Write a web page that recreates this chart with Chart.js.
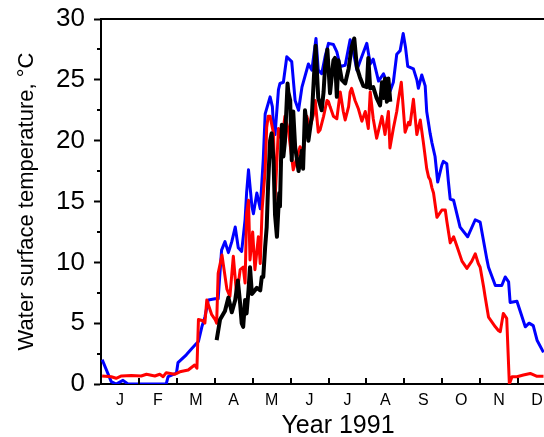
<!DOCTYPE html>
<html>
<head>
<meta charset="utf-8">
<script src="https://cdn.jsdelivr.net/npm/chart.js@4/dist/chart.umd.min.js"></script>
<style>
  html, body { margin: 0; padding: 0; overflow: hidden; background: #fff; }
  canvas { display: block; }
</style>
</head>
<body>
<canvas id="chart" width="560" height="437"></canvas>
<script>
// month labels along the x axis (x values are in months from 1 Jan)
const monthLabels = ['J', 'F', 'M', 'A', 'M', 'J', 'J', 'A', 'S', 'O', 'N', 'D'];
const yTicks = [0, 5, 10, 15, 20, 25, 30];
const yMinorTicks = [2.5, 7.5, 12.5, 17.5, 22.5, 27.5];
const xTitle = 'Year 1991';
const yTitle = 'Water surface temperature, °C';

// [month, temperature °C]
const blueSeries = [
  [0.03,2.0],[0.27,0.2],[0.40,0.0],[0.58,0.3],[0.71,0.0],[1.72,0.0],[1.77,0.6],[1.99,0.9],
  [2.03,1.75],[2.25,2.4],[2.39,2.9],[2.51,3.3],[2.57,3.5],[2.66,4.7],[2.74,5.5],[2.83,6.9],
  [3.01,7.0],[3.09,7.0],[3.18,11.0],[3.27,11.7],[3.36,10.8],[3.45,11.7],[3.54,12.9],[3.62,11.2],
  [3.71,10.9],[3.80,13.5],[3.84,15.7],[3.89,17.6],[3.98,14.6],[4.02,14.0],[4.11,15.7],[4.20,14.4],
  [4.28,18.5],[4.33,22.2],[4.46,23.6],[4.52,22.8],[4.55,21.1],[4.59,20.5],[4.68,24.2],[4.72,24.7],
  [4.81,24.8],[4.90,26.9],[5.03,26.5],[5.12,23.3],[5.21,22.5],[5.30,24.4],[5.47,26.3],[5.56,25.8],
  [5.67,28.4],[5.73,25.8],[5.82,25.5],[5.91,26.9],[6.00,28.0],[6.13,27.9],[6.22,27.3],[6.31,26.1],
  [6.44,26.2],[6.57,28.3],[6.66,27.2],[6.75,25.8],[6.83,26.5],[7.01,28.0],[7.10,26.3],[7.18,26.7],
  [7.32,24.9],[7.45,25.5],[7.63,24.1],[7.71,24.8],[7.80,27.1],[7.89,27.4],[7.97,28.8],[8.03,27.7],
  [8.09,26.1],[8.24,25.9],[8.33,25.0],[8.37,24.3],[8.46,25.4],[8.55,24.5],[8.59,22.4],[8.68,20.6],
  [8.73,19.8],[8.81,18.7],[8.88,16.6],[8.99,18.0],[9.03,18.3],[9.12,18.1],[9.16,16.7],[9.21,15.2],
  [9.30,15.1],[9.47,12.9],[9.67,12.1],[9.87,13.5],[10.00,13.3],[10.18,10.2],[10.22,9.6],[10.40,8.1],
  [10.57,8.1],[10.66,8.8],[10.75,8.4],[10.79,6.7],[10.97,6.8],[11.19,4.7],[11.29,5.0],[11.40,4.8],
  [11.50,3.6],[11.67,2.6]
];

const redSeries = [
  [0.03,0.66],[0.27,0.6],[0.40,0.47],[0.54,0.66],[0.80,0.7],[1.06,0.66],[1.20,0.8],[1.42,0.66],
  [1.55,0.8],[1.64,0.6],[1.72,0.93],[1.94,0.8],[2.08,1.0],[2.30,1.15],[2.47,1.56],[2.53,1.3],
  [2.57,5.3],[2.69,5.2],[2.74,5.0],[2.79,6.9],[2.92,5.7],[3.01,5.3],[3.05,5.0],[3.09,9.1],
  [3.19,10.6],[3.32,7.8],[3.40,7.2],[3.49,10.5],[3.58,7.2],[3.67,9.4],[3.75,9.6],[3.80,8.3],
  [3.84,14.0],[3.89,15.1],[3.93,10.2],[4.00,12.5],[4.06,9.4],[4.15,12.1],[4.20,9.9],[4.25,14.4],
  [4.33,17.6],[4.37,21.1],[4.41,22.0],[4.46,22.0],[4.55,20.6],[4.59,15.1],[4.68,21.0],[4.77,20.0],
  [4.85,22.0],[4.94,20.9],[5.07,17.6],[5.25,19.5],[5.34,19.1],[5.43,22.0],[5.51,21.1],[5.60,22.1],
  [5.65,23.3],[5.73,20.7],[5.78,20.9],[5.87,22.0],[5.96,23.3],[6.00,23.2],[6.04,22.8],[6.13,22.0],
  [6.22,21.8],[6.31,24.0],[6.39,22.4],[6.44,21.7],[6.53,22.8],[6.57,24.0],[6.61,24.3],[6.70,23.3],
  [6.79,22.6],[6.88,21.6],[6.97,22.4],[7.05,21.0],[7.10,24.0],[7.18,21.8],[7.27,20.2],[7.41,22.0],
  [7.49,20.5],[7.58,22.4],[7.62,19.4],[7.71,21.0],[7.80,22.4],[7.84,23.3],[7.92,24.8],[8.02,20.7],
  [8.11,21.5],[8.15,21.3],[8.24,23.4],[8.33,20.5],[8.42,21.7],[8.50,19.9],[8.59,17.7],[8.64,17.0],
  [8.68,16.8],[8.73,16.1],[8.77,15.7],[8.86,13.7],[8.99,14.3],[9.08,14.3],[9.12,13.4],[9.21,11.6],
  [9.30,12.1],[9.39,11.3],[9.52,10.1],[9.65,9.5],[9.78,10.1],[9.87,10.7],[9.95,9.9],[10.00,9.6],
  [10.09,8.0],[10.13,7.2],[10.22,5.5],[10.40,4.7],[10.48,4.4],[10.53,4.3],[10.61,5.8],[10.70,5.4],
  [10.77,0.0],[10.84,0.6],[10.97,0.6],[11.14,0.74],[11.32,0.87],[11.50,0.63],[11.67,0.63]
];

const blackSeries = [
  [3.05,3.6],[3.14,5.3],[3.27,6.0],[3.36,7.1],[3.45,5.9],[3.54,6.9],[3.61,8.5],[3.67,6.6],
  [3.71,5.0],[3.75,4.7],[3.80,6.9],[3.84,5.8],[3.89,7.7],[3.93,9.6],[3.98,7.4],[4.11,7.9],
  [4.20,7.7],[4.24,8.8],[4.28,8.8],[4.33,11.3],[4.37,12.9],[4.41,16.6],[4.46,20.0],[4.50,20.6],
  [4.55,18.4],[4.59,13.9],[4.64,12.1],[4.70,15.7],[4.72,14.6],[4.77,21.3],[4.81,18.7],[4.85,19.9],
  [4.92,24.7],[4.94,24.0],[4.99,23.3],[5.03,18.4],[5.07,22.4],[5.12,19.5],[5.21,17.5],[5.30,19.2],
  [5.33,17.7],[5.38,22.5],[5.47,20.0],[5.56,22.0],[5.66,27.8],[5.73,23.5],[5.82,22.5],[5.87,24.0],
  [5.91,26.1],[5.97,27.5],[6.04,23.9],[6.13,26.6],[6.17,26.8],[6.22,23.6],[6.26,26.6],[6.35,25.0],
  [6.44,24.7],[6.53,25.9],[6.61,27.7],[6.68,28.4],[6.75,26.0],[6.83,25.2],[6.92,24.5],[7.01,24.4],
  [7.05,26.8],[7.10,24.3],[7.18,24.4],[7.27,23.5],[7.36,22.9],[7.41,24.8],[7.45,23.5],[7.49,25.1],
  [7.54,23.2],[7.58,25.1],[7.63,23.2]
];

const toPoints = s => s.map(([m, t]) => ({ x: m, y: t }));

Chart.defaults.font.family = '"Liberation Sans", Arial, Helvetica, sans-serif';
Chart.defaults.color = '#000';

// frame, inward month ticks, minor y ticks and the x title
const axisDecor = {
  id: 'axisDecor',
  afterDraw(chart) {
    const { ctx, chartArea: a, scales: { x, y } } = chart;
    ctx.save();
    ctx.strokeStyle = '#000';
    ctx.lineWidth = 2;
    ctx.beginPath();
    ctx.moveTo(a.left, a.top);
    ctx.lineTo(a.right, a.top);
    ctx.lineTo(a.right, a.bottom);
    for (let m = 1; m < 12; m++) {
      const px = Math.round(x.getPixelForValue(m));
      ctx.moveTo(px, a.bottom);
      ctx.lineTo(px, a.bottom - 6);
    }
    yMinorTicks.forEach(v => {
      const py = Math.round(y.getPixelForValue(v));
      ctx.moveTo(a.left, py);
      ctx.lineTo(a.left - 4, py);
    });
    ctx.stroke();

    ctx.fillStyle = '#000';
    ctx.font = '25px "Liberation Sans", Arial, sans-serif';
    ctx.textAlign = 'center';
    ctx.textBaseline = 'alphabetic';
    ctx.fillText(xTitle, 338, 433);
    ctx.restore();
  }
};

new Chart(document.getElementById('chart'), {
  type: 'line',
  data: {
    datasets: [
      { label: 'black', data: toPoints(blackSeries), borderColor: '#000000', borderWidth: 4, order: 0 },
      { label: 'red', data: toPoints(redSeries), borderColor: '#ff0000', borderWidth: 3, order: 1 },
      { label: 'blue', data: toPoints(blueSeries), borderColor: '#0000ff', borderWidth: 3, order: 2 }
    ]
  },
  options: {
    responsive: false,
    animation: false,
    events: [],
    elements: {
      point: { radius: 0 },
      line: { tension: 0, fill: false, borderJoinStyle: 'round' }
    },
    layout: { padding: { top: 19, right: 4, left: 0, bottom: 0 } },
    plugins: { legend: { display: false }, tooltip: { enabled: false } },
    scales: {
      x: {
        type: 'linear',
        min: 0,
        max: 12,
        afterFit: s => { s.height = 53; s.paddingLeft = 0; s.paddingRight = 0; },
        afterBuildTicks: s => { s.ticks = monthLabels.map((_, i) => ({ value: i + 0.5 })); },
        grid: { display: false },
        border: { display: true, color: '#000', width: 2 },
        ticks: {
          autoSkip: false,
          maxRotation: 0,
          padding: -1,
          font: { size: 16 },
          callback: (v, i) => monthLabels[i]
        }
      },
      y: {
        min: 0,
        max: 30,
        afterFit: s => { s.width = 101; s.paddingTop = 0; s.paddingBottom = 0; },
        afterBuildTicks: s => { s.ticks = yTicks.map(v => ({ value: v })); },
        grid: { display: true, drawOnChartArea: false, drawTicks: true, tickLength: 7, tickWidth: 2, tickColor: '#000' },
        border: { display: true, color: '#000', width: 2 },
        ticks: { padding: 9, font: { size: 26 } },
        title: {
          display: true,
          text: yTitle,
          font: { size: 22 },
          padding: { top: 14, bottom: 0 }
        }
      }
    }
  },
  plugins: [axisDecor]
});
</script>
</body>
</html>
